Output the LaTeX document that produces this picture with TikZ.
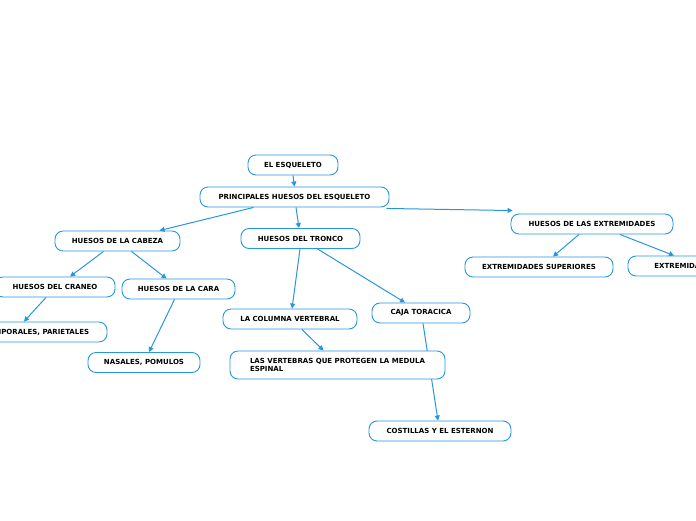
\documentclass[tikz,border=0pt]{standalone}
\usepackage{fontspec}
\setmainfont{DejaVu Sans}
\usetikzlibrary{arrows.meta,calc}
\definecolor{lineblue}{RGB}{40,150,222}
\tikzset{
  box/.style={draw=lineblue, line width=0.9pt, rounded corners=8pt, fill=white,
    minimum height=20pt, inner sep=0pt, font=\bfseries\fontsize{7}{8.6}\selectfont, text=black},
  conn/.style={draw=lineblue, line width=1pt, -{Triangle[length=5pt,width=5pt]}}
}
\begin{document}
\begin{tikzpicture}[x=1pt,y=-1pt]
\useasboundingbox (0,0) rectangle (696,520);
\clip (0,0) rectangle (696,520);
\node[box, minimum width=90pt] (esq) at (293,165) {EL ESQUELETO};
\node[box, minimum width=189pt] (princ) at (294.5,197) {PRINCIPALES HUESOS DEL ESQUELETO};
\node[box, minimum width=125pt] (cabeza) at (117.5,241) {HUESOS DE LA CABEZA};
\node[box, minimum width=119pt] (tronco) at (300.5,238.5) {HUESOS DEL TRONCO};
\node[box, minimum width=162pt] (extr) at (592,224) {HUESOS DE LAS EXTREMIDADES};
\node[box, minimum width=120pt] (craneo) at (55,287) {HUESOS DEL CRANEO};
\node[box, minimum width=113pt] (cara) at (178.5,289) {HUESOS DE LA CARA};
\node[box, minimum width=140pt] (temp) at (37,332) {TEMPORALES, PARIETALES};
\node[box, minimum width=112pt] (nasal) at (144,362.5) {NASALES, POMULOS};
\node[box, minimum width=134pt] (columna) at (290,319) {LA COLUMNA VERTEBRAL};
\node[box, minimum width=98pt] (caja) at (421,313) {CAJA TORACICA};
\node[box, minimum width=142pt] (cost) at (440,431) {COSTILLAS Y EL ESTERNON};
\node[box, minimum width=148pt] (sup) at (539,267) {EXTREMIDADES SUPERIORES};
\node[box, minimum width=164pt] (inf) at (710,266) {EXTREMIDADES INFERIORES};
% connector behind vertebras node
\draw[conn] ([xshift=2pt]caja.south) -- ([xshift=-2pt]cost.north);
\node[box, minimum width=215pt, minimum height=28pt, align=left] (vert) at (337.5,365)
  {LAS VERTEBRAS QUE PROTEGEN LA MEDULA\\ESPINAL};
\draw[conn] (esq.south) -- (princ.north);
\draw[conn] ([xshift=-41pt]princ.south) -- ([xshift=42pt]cabeza.north);
\draw[conn] ([xshift=1.5pt]princ.south) -- ([xshift=-1.5pt]tronco.north);
\draw[conn] ([xshift=-3pt,yshift=-1pt]princ.south east) -- ([xshift=2pt,yshift=3pt]extr.north west);
\draw[conn] ([xshift=-14pt]cabeza.south) -- ([xshift=15pt]craneo.north);
\draw[conn] ([xshift=14pt]cabeza.south) -- ([xshift=-12pt]cara.north);
\draw[conn] ([xshift=-9pt]craneo.south) -- ([xshift=-13pt]temp.north);
\draw[conn] ([xshift=-4pt]cara.south) -- ([xshift=5pt]nasal.north);
\draw[conn] ([xshift=-0.5pt]tronco.south) -- ([xshift=2pt]columna.north);
\draw[conn] ([xshift=17pt]tronco.south) -- ([xshift=-16pt]caja.north);
\draw[conn] ([xshift=12pt]columna.south) -- ([xshift=-14pt]vert.north);
\draw[conn] ([xshift=-13pt]extr.south) -- ([xshift=14pt]sup.north);
\draw[conn] ([xshift=28pt]extr.south) -- ([xshift=-36pt]inf.north);
\end{tikzpicture}
\end{document}
